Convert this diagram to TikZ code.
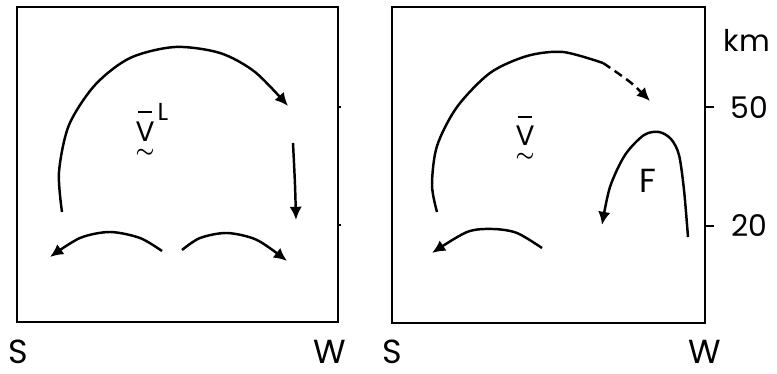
\documentclass[tikz,border=0pt]{standalone}
\usepackage{amsmath}
\usepackage{fontspec}
\setmainfont{Poppins}
\usetikzlibrary{arrows.meta}

\begin{document}
\begin{tikzpicture}[x=0.02cm, y=-0.02cm,
    panel/.style={draw, line width=1.4pt},
    flow/.style={line width=1.4pt, -{Latex[length=7.5pt, width=7pt]}},
    trail/.style={line width=1.4pt},
    axis/.style={font=\fontsize{17}{17}\selectfont, inner sep=0pt},
    lbl/.style={font=\fontsize{19}{19}\selectfont, inner sep=0pt, text depth=0pt, anchor=base},
    sym/.style={font=\fontsize{16}{16}\selectfont, inner sep=0pt, text depth=0pt},
    squig/.style={inner sep=0pt, font=\fontsize{13}{13}\selectfont, text height=3pt, text depth=0pt},
    bar/.style={line width=1.5pt}]
    \useasboundingbox (0,0) rectangle (777,374);

    % Panels
    \draw [panel] (17,7) rectangle (338,322);
    \draw [panel] (392,7) rectangle (705,323);
    \draw [line width=0.8pt] (338,107) -- ++(3,0) (338,225) -- ++(3,0);
    \draw [line width=1.4pt] (705,107) -- ++(9,0) (705,226) -- ++(9,0);

    % Nodes
    \node [lbl] (s1) at (18,364) {S};
    \node [lbl] (w1) at (330,364) {W};
    \node [lbl] (s2) at (392,364) {S};
    \node [lbl] (w2) at (705,364) {W};
    \node [axis] (km) at (747,40) {km};
    \node [axis] (h50) at (749,108) {50};
    \node [axis] (h20) at (749,226) {20};
    \node [lbl] (f) at (648,193) {F};

    \node [sym] (vl) at (145,132) {V};
    \node [sym, font=\fontsize{14}{14}\selectfont] (vlsup) at (163,112) {L};
    \draw [bar] (138,112) -- (152,112);
    \node [squig] (vltil) at (145,155) {$\boldsymbol{\sim}$};

    \node [sym] (vr) at (525,136) {V};
    \draw [bar] (518,117) -- (532,117);
    \node [squig] (vrtil) at (525,159) {$\boldsymbol{\sim}$};

    % Connectors (left panel)
    \draw [flow] plot [smooth] coordinates {(62,212) (59,172) (69,125) (95,85) (130,58) (175,47) (220,53) (255,72) (288,106)};
    \draw [flow] plot [smooth] coordinates {(293,143) (295,185) (296,220)};
    \draw [flow] plot [smooth] coordinates {(162,251) (140,238) (110,232) (80,238) (50,257)};
    \draw [flow] plot [smooth] coordinates {(182,250) (200,238) (227,233) (257,240) (287,261)};

    % Connectors (right panel)
    \draw [trail] plot [smooth] coordinates {(437,212) (432,185) (437,146) (457,107) (490,73) (527,56) (563,52) (603,63)};
    \draw [flow, dash pattern=on 5pt off 3pt] plot [smooth] coordinates {(603,63) (630,82) (650,101)};
    \draw [flow] plot [smooth] coordinates {(542,248) (517,233) (493,229) (467,232) (432,253)};
    \draw [flow] plot [smooth] coordinates {(688,237) (684,190) (679,155) (671,139) (659,132) (644,135) (625,155) (610,187) (602,225)};
\end{tikzpicture}
\end{document}
